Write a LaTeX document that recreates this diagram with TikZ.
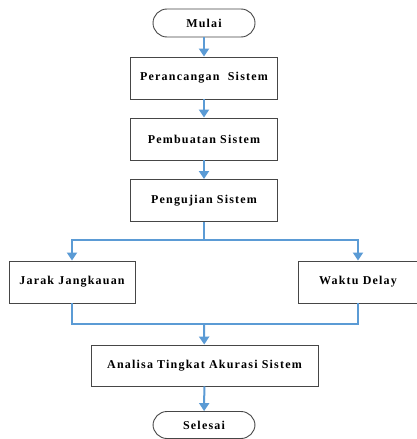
\documentclass[tikz,border=0pt]{standalone}
\usepackage{fontspec}
\setmainfont{Liberation Serif}
\newfontfamily\lsfont[LetterSpace=10,BoldFont={Liberation Serif Bold}]{Liberation Serif}
\usetikzlibrary{arrows.meta}
\definecolor{flowblue}{RGB}{91,155,213}
\definecolor{boxline}{RGB}{70,70,70}
\begin{document}
\begin{tikzpicture}[x=1pt,y=-1pt,
  box/.style={draw=boxline,line width=0.9pt,fill=white,minimum height=42pt,inner sep=0pt,font=\lsfont\fontsize{12}{14}\selectfont\bfseries},
  term/.style={box,rounded corners=14pt,minimum height=28pt,minimum width=102pt},
  flow/.style={draw=flowblue,line width=2pt},
  arr/.style={flow,-{Triangle[length=8pt,width=10pt]}}]
\useasboundingbox[fill=white] (0,0) rectangle (417,439);
\node[term] (mulai) at (204,23) {Mulai};
\node[box,minimum width=147pt] (p1) at (204,78) {Perancangan\ \ Sistem};
\node[box,minimum width=147pt] (p2) at (204,139) {Pembuatan Sistem};
\node[box,minimum width=147pt] (p3) at (204,200.5) {Pengujian Sistem};
\node[box,minimum width=126pt] (jarak) at (72,282) {Jarak Jangkauan};
\node[box,minimum width=120pt] (waktu) at (358,282) {Waktu Delay};
\node[box,minimum width=227pt,minimum height=41pt] (an) at (204.5,365.5) {Analisa Tingkat Akurasi Sistem};
\node[term,minimum height=27pt] (sel) at (204,425) {Selesai};
\coordinate (br) at (204,240);
\coordinate (mg) at (204,324);
\draw[arr] (mulai) -- (p1);
\draw[arr] (p1) -- (p2);
\draw[arr] (p2) -- (p3);
\draw[flow] (p3) -- (br);
\draw[arr] (br) -| (jarak);
\draw[arr] (br) -| (waktu);
\draw[flow] (jarak) |- (mg);
\draw[flow] (waktu) |- (mg);
\draw[arr] (mg) -- (an);
\draw[arr] (an) -- (sel);
\end{tikzpicture}
\end{document}
